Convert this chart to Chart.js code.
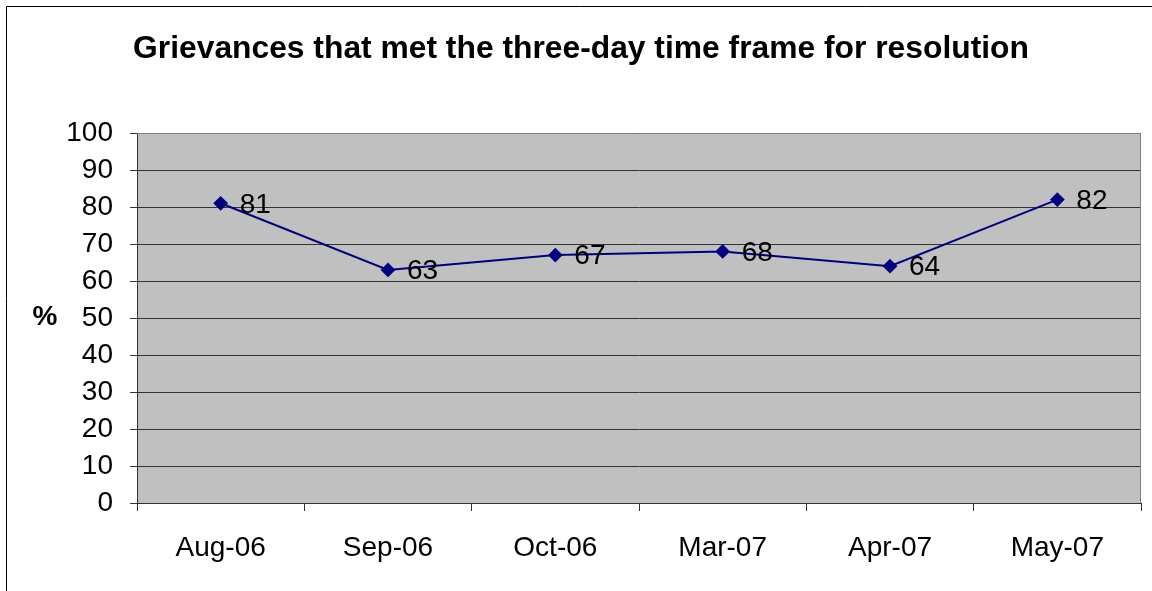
<!DOCTYPE html>
<html><head><meta charset="utf-8">
<script src="https://cdn.jsdelivr.net/npm/chart.js@4/dist/chart.umd.min.js"></script>
<style>html,body{margin:0;padding:0;background:#fff}#wrap{width:1152px;height:591px}</style>
</head><body><div id="wrap"><canvas id="c" width="1152" height="591"></canvas></div>
<script>
const chartTitle = 'Grievances that met the three-day time frame for resolution';
const yAxisTitle = '%';
const categories = ['Aug-06', 'Sep-06', 'Oct-06', 'Mar-07', 'Apr-07', 'May-07'];
const values = [81, 63, 67, 68, 64, 82];
const yTicks = [0, 10, 20, 30, 40, 50, 60, 70, 80, 90, 100];

const FONT = "'Liberation Sans', Arial, sans-serif";

const decor = {
  id: 'decor',
  beforeDraw(chart) {
    const ctx = chart.ctx, a = chart.chartArea;
    ctx.save();
    ctx.fillStyle = '#fff';
    ctx.fillRect(0, 0, chart.width, chart.height);
    ctx.fillStyle = '#c0c0c0';
    ctx.fillRect(a.left, a.top, a.right - a.left, a.bottom - a.top);
    ctx.restore();
  },
  afterDraw(chart) {
    const ctx = chart.ctx, a = chart.chartArea;
    ctx.save();
    ctx.strokeStyle = '#000';
    ctx.lineWidth = 1;
    ctx.beginPath();
    ctx.moveTo(6.5, chart.height); ctx.lineTo(6.5, 6.5); ctx.lineTo(chart.width, 6.5);
    ctx.stroke();
    ctx.strokeStyle = '#808080';
    ctx.beginPath();
    ctx.moveTo(a.left, a.top + 0.5); ctx.lineTo(a.right - 0.5, a.top + 0.5); ctx.lineTo(a.right - 0.5, a.bottom);
    ctx.stroke();
    ctx.fillStyle = '#000';
    ctx.font = 'bold 31.8px ' + FONT;
    ctx.textAlign = 'center';
    ctx.textBaseline = 'middle';
    ctx.fillText(chartTitle, 581, 49);
    ctx.font = 'bold 28px ' + FONT;
    ctx.fillText(yAxisTitle, 45, 317);
    const meta = chart.getDatasetMeta(0);
    ctx.font = '28px ' + FONT;
    ctx.textAlign = 'left';
    meta.data.forEach((pt, i) => {
      ctx.fillText(String(values[i]), pt.x + 19, pt.y + 1.5);
    });
    ctx.restore();
  }
};

new Chart(document.getElementById('c'), {
  type: 'line',
  data: {
    labels: categories,
    datasets: [{
      data: values,
      borderColor: '#000080',
      backgroundColor: '#000080',
      borderWidth: 2,
      pointStyle: 'rectRot',
      pointRadius: 6,
      pointHoverRadius: 6,
      tension: 0,
      fill: false
    }]
  },
  options: {
    responsive: false,
    animation: false,
    events: [],
    layout: { padding: { left: 0, top: 133, right: 11, bottom: 0 } },
    plugins: { legend: { display: false }, title: { display: false }, tooltip: { enabled: false } },
    scales: {
      x: {
        type: 'category',
        offset: true,
        grid: { display: true, offset: true, drawOnChartArea: false, drawTicks: true, tickLength: 8, color: '#333', lineWidth: 1 },
        border: { display: true, color: '#333', width: 1 },
        ticks: { color: '#000', font: { family: FONT, size: 28 }, padding: 20, maxRotation: 0, autoSkip: false },
        afterFit(axis) { axis.height = 88; }
      },
      y: {
        min: 0, max: 100,
        afterBuildTicks(axis) { axis.ticks = yTicks.map(v => ({ value: v })); },
        grid: { display: true, drawOnChartArea: true, drawTicks: true, tickLength: 7, color: '#333', lineWidth: 1 },
        border: { display: true, color: '#333', width: 1 },
        ticks: { color: '#000', font: { family: FONT, size: 28 }, padding: 17 },
        afterFit(axis) { axis.width = 137; }
      }
    }
  },
  plugins: [decor]
});
</script>
</body></html>
